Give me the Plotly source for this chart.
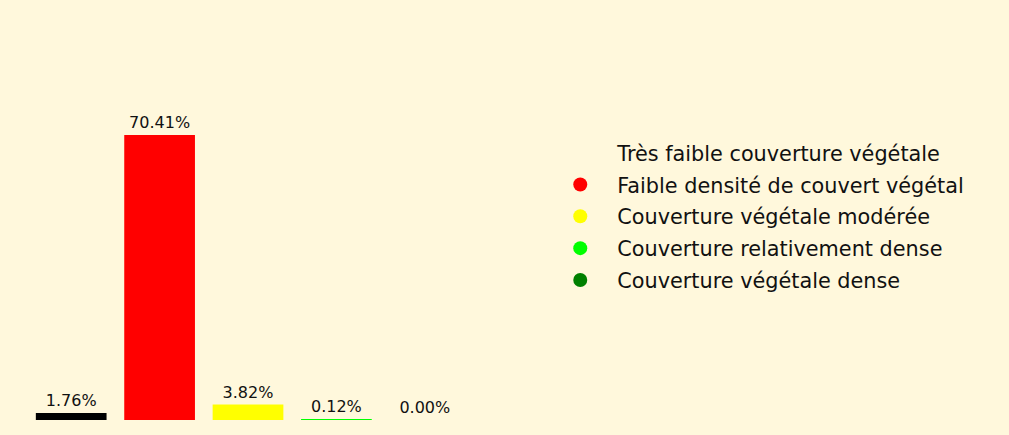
import plotly.graph_objects as go

categories = ["Très faible couverture végétale", "Faible densité de couvert végétal",
              "Couverture végétale modérée", "Couverture relativement dense",
              "Couverture végétale dense"]
values = [1.76, 70.41, 3.82, 0.12, 0.00]
labels = ["1.76%", "70.41%", "3.82%", "0.12%", "0.00%"]
bar_colors = ["#000000", "#FF0000", "#FFFF00", "#00FF00", "#008000"]
legend_colors = ["rgba(0,0,0,0)", "#FF0000", "#FFFF00", "#00FF00", "#008000"]

bg = "#FFF8DC"
fig = go.Figure()
fig.add_trace(go.Bar(
    x=categories, y=values, marker=dict(color=bar_colors, line=dict(width=0)),
    text=labels, textposition="outside", cliponaxis=False,
    textfont=dict(size=16, color="#111111", family="DejaVu Sans"),
    width=0.8, showlegend=False,
))
for i, (name, c) in enumerate(zip(categories, legend_colors)):
    fig.add_trace(go.Scatter(x=[None], y=[None], mode="markers", name=name,
                             legendgroup=f"g{i}",
                             marker=dict(color=c, size=14)))

fig.update_layout(
    width=1009, height=435,
    paper_bgcolor=bg, plot_bgcolor=bg,
    margin=dict(l=27, r=540, t=60, b=15),
    font=dict(family="DejaVu Sans", color="#111111"),
    xaxis=dict(visible=False),
    yaxis=dict(visible=False, range=[0, 88.93]),
    legend=dict(x=1.168, xanchor="left", y=0.565, yanchor="middle",
                font=dict(size=20.8), itemwidth=64, bgcolor="rgba(0,0,0,0)",
                tracegroupgap=1.8),
    bargap=0.2,
)
fig.write_html("out.html")
